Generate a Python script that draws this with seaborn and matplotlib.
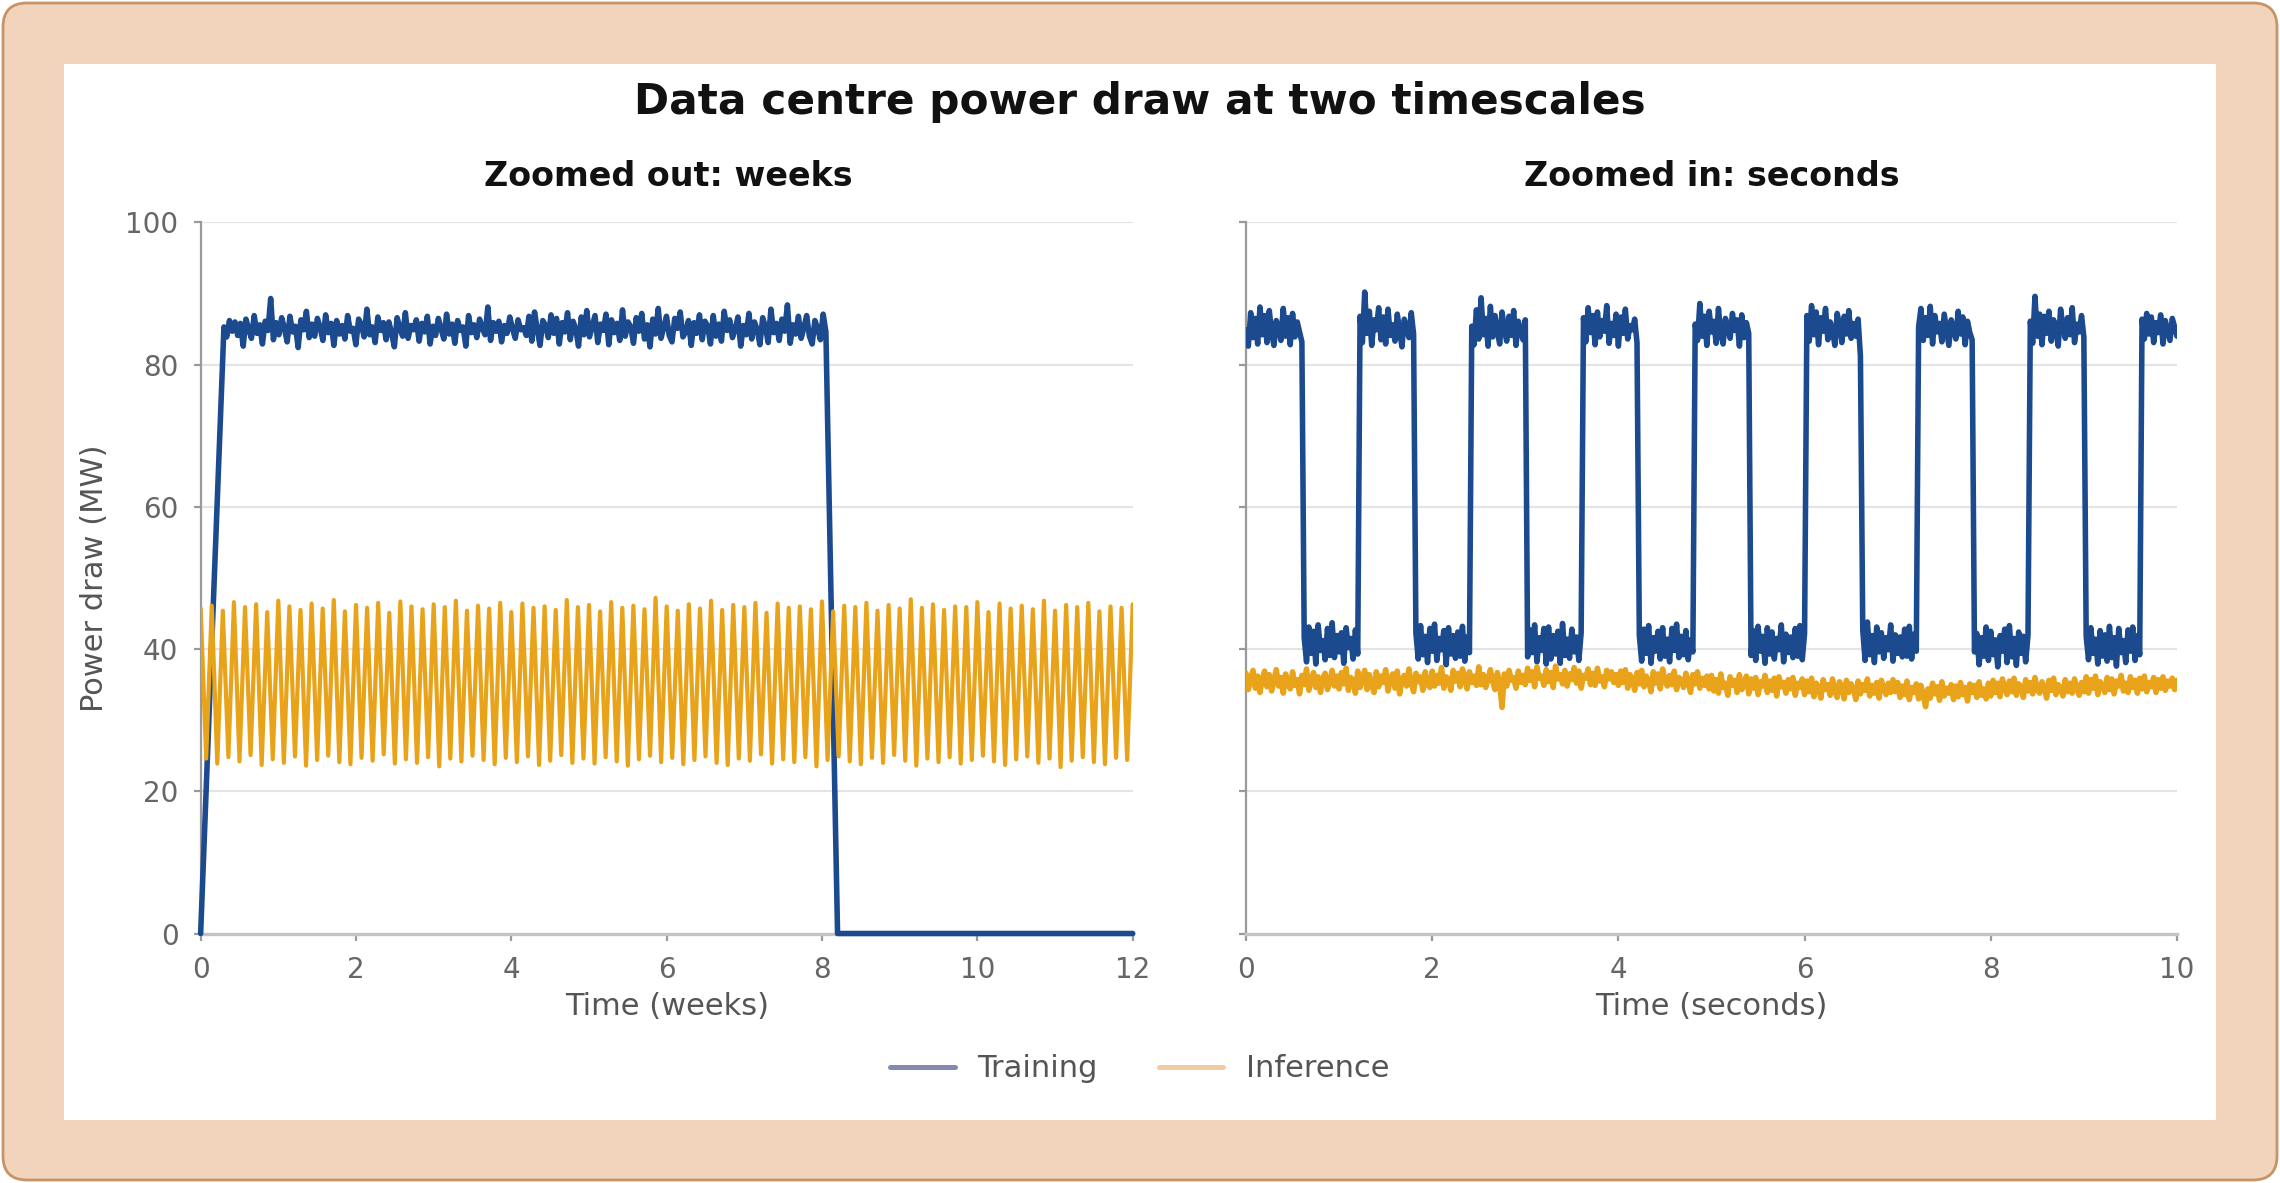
import numpy as np
import matplotlib
matplotlib.use("Agg")
import matplotlib.pyplot as plt
from matplotlib.lines import Line2D
from matplotlib.patches import FancyBboxPatch, Rectangle
import seaborn as sns

sns.set_theme(style="ticks")
plt.rcParams['font.family'] = ['DejaVu Sans']

# ---- left panel: weeks ----
# training: ramp start, plateau start, plateau end, back at zero, end of axis
week_train_knots = [0.0, 0.3, 8.05, 8.2, 12.0]
week_train_plateau = [
    85.3, 83.9, 86.2, 84.7, 86.0, 84.1, 85.8, 82.6, 86.4, 85.0, 83.7, 86.9, 84.4, 85.6,
    82.9, 86.1, 84.8, 89.3, 83.5, 85.9, 84.2, 86.6, 85.1, 83.2, 86.8, 84.6, 85.4, 82.4,
    86.3, 84.9, 87.5, 83.8, 85.7, 84.0, 86.5, 85.2, 83.4, 87.0, 84.5, 85.8, 82.7, 86.2,
    84.3, 85.5, 83.6, 86.9, 84.7, 85.1, 82.8, 86.4, 85.6, 83.9, 87.8, 84.2, 85.3, 83.1,
    86.7, 84.8, 85.9, 83.5, 86.0, 84.4, 82.5, 86.6, 85.2, 84.0, 87.3, 83.7, 85.5, 84.9,
    86.3, 83.3, 85.8, 84.6, 86.8, 82.9, 85.4, 84.1, 86.5, 85.0, 83.6, 87.1, 84.3, 85.7,
    83.0, 86.2, 84.8, 85.3, 82.6, 86.9, 84.5, 85.6, 83.8, 86.4, 85.1, 84.2, 88.1, 83.4,
    85.9, 84.7, 86.1, 83.2, 85.5, 84.4, 86.7, 85.0, 83.7, 86.3, 84.9, 85.2,
    84.1, 86.8, 83.3, 87.4, 84.9, 82.7, 86.2, 85.5, 83.8, 87.0, 84.4, 86.5, 82.9, 85.9,
    84.6, 87.3, 83.5, 86.1, 85.0, 82.6, 86.7, 84.2, 87.6, 83.9, 85.4, 86.9, 83.1, 85.7,
    84.8, 87.1, 82.8, 86.3, 84.5, 85.8, 83.4, 87.7, 84.0, 86.0, 85.3, 83.0, 86.6, 84.7,
    87.2, 83.6, 85.6, 82.5, 86.4, 84.3, 87.9, 83.7, 85.2, 86.8, 84.1, 83.2, 86.5, 85.1,
    87.4, 83.9, 84.6, 86.2, 82.7, 85.9, 84.4, 87.0, 83.5, 86.1, 85.4, 82.9, 86.9, 84.0,
    85.7, 83.3, 87.5, 84.8, 86.3, 83.8, 85.0, 86.7, 82.6, 85.5, 84.2, 87.2, 83.6, 86.0,
    84.9, 82.8, 86.6, 85.3, 83.1, 87.8, 84.5, 85.8, 83.4, 86.4, 84.7, 88.4, 83.0, 85.6,
    84.3, 86.8, 83.7, 85.2, 86.9, 84.0, 82.9, 86.2, 85.1, 83.5, 87.1, 84.6,
]
# inference: one peak and one trough per day over 12 weeks
week_inf_peaks = [
    45.8, 46.1, 45.4, 46.6, 45.9, 46.3, 45.2, 46.8, 46.0, 45.5, 46.4, 45.7, 46.9, 45.3,
    46.2, 45.8, 46.5, 45.1, 46.7, 46.0, 45.6, 46.3, 45.9, 46.8, 45.4, 46.1, 45.7, 46.5,
    45.2, 46.4, 45.8, 46.0, 45.5, 46.9, 45.9, 46.2, 45.3, 46.6, 45.8, 46.1, 45.6, 47.2,
    46.0, 45.4, 46.3, 45.7, 46.8, 45.5, 46.2, 45.9, 46.5, 45.1, 46.4, 45.8, 46.0, 45.6,
    46.7, 45.3, 46.1, 45.9, 46.5, 45.4, 46.2, 45.7, 47.0, 45.8, 46.3, 45.5, 46.0, 45.9,
    46.6, 45.2, 46.4, 45.7, 46.1, 45.6, 46.8, 45.4, 46.2, 45.9, 46.5, 45.3, 46.0, 45.8,
    46.3,
]
week_inf_troughs = [
    24.6, 23.9, 24.8, 24.2, 25.1, 23.7, 24.5, 24.0, 24.9, 23.6, 24.4, 25.0, 24.1, 23.8,
    24.7, 24.3, 25.2, 23.9, 24.5, 24.0, 24.8, 23.5, 24.6, 24.2, 25.0, 24.4, 23.8, 24.7,
    24.1, 24.9, 23.7, 24.3, 25.1, 24.0, 24.6, 23.9, 24.8, 24.2, 23.6, 24.5, 25.0, 24.1,
    24.7, 23.8, 24.4, 24.9, 24.0, 23.7, 24.6, 24.3, 25.2, 23.9, 24.5, 24.1, 24.8, 23.5,
    24.4, 24.9, 24.2, 23.8, 24.7, 24.0, 25.1, 24.3, 23.6, 24.6, 24.1, 24.8, 23.9, 24.4,
    25.0, 24.2, 23.7, 24.5, 24.9, 24.0, 24.6, 23.4, 24.3, 24.8, 24.1, 23.8, 24.7, 24.4,
]

# ---- right panel: seconds, sampled every 0.025 s ----
sec_step = 0.025
sec_training = [
    # on 0.000-0.600
    84.9, 82.6, 87.3, 83.8, 86.5, 82.9, 88.1, 84.2, 86.9, 83.1, 87.6, 84.5, 82.7,
    86.2, 85.1, 83.4, 87.9, 84.0, 86.6, 82.8, 87.2, 83.9, 86.0, 84.6, 83.2,
    # off 0.625-1.200
    41.6, 38.2, 43.1, 39.4, 42.5, 37.9, 43.4, 39.8, 41.2, 38.5, 42.9, 39.1,
    43.7, 38.8, 41.9, 39.6, 42.3, 38.0, 43.0, 40.2, 41.5, 38.6, 42.7, 39.3,
    # on 1.225-1.800
    86.8, 83.1, 90.2, 84.4, 87.5, 82.7, 86.3, 84.9, 88.0, 83.5, 86.7, 82.9,
    87.8, 84.1, 85.6, 83.3, 87.1, 84.7, 82.5, 86.4, 85.2, 83.8, 87.3, 84.3,
    # off 1.825-2.400
    42.2, 38.6, 43.3, 39.2, 41.8, 38.1, 42.9, 39.7, 43.5, 38.4, 41.5, 39.9,
    42.6, 37.8, 43.0, 39.3, 41.9, 38.7, 42.4, 39.0, 43.2, 38.3, 41.7, 39.5,
    # on 2.425-3.000
    85.4, 82.8, 87.7, 83.6, 89.4, 84.2, 86.5, 82.6, 88.2, 83.9, 86.9, 84.6,
    82.9, 87.4, 85.0, 83.3, 86.8, 84.1, 87.6, 82.7, 86.1, 84.8, 83.5, 86.3,
    # off 3.025-3.600
    38.9, 42.7, 39.5, 43.4, 38.2, 41.6, 39.8, 42.9, 37.9, 43.1, 38.6, 41.9,
    39.3, 42.5, 38.0, 43.6, 39.1, 41.4, 38.7, 42.8, 39.6, 41.7, 38.4, 42.3,
    # on 3.625-4.200
    86.6, 83.2, 88.0, 84.5, 86.9, 82.8, 87.4, 83.9, 86.2, 84.7, 88.3, 83.0,
    85.8, 84.1, 87.1, 82.6, 86.7, 84.4, 87.8, 83.6, 85.5, 84.9, 86.4, 83.1,
    # off 4.225-4.800
    41.9, 38.3, 42.8, 39.4, 43.3, 38.0, 41.6, 39.7, 42.5, 38.6, 43.0, 39.0,
    41.4, 38.2, 42.9, 39.8, 43.5, 38.8, 41.8, 39.2, 42.6, 38.5, 41.3, 39.6,
    # on 4.825-5.400
    85.7, 83.4, 88.6, 84.0, 86.8, 82.7, 87.5, 84.6, 86.1, 83.0, 87.9, 84.3,
    82.9, 86.5, 85.2, 83.7, 87.2, 84.8, 86.3, 82.6, 87.0, 83.8, 85.9, 84.4,
    # off 5.425-6.000
    39.1, 42.6, 38.4, 43.2, 39.7, 41.8, 38.0, 43.0, 39.3, 42.4, 38.6, 41.5,
    39.9, 43.4, 38.2, 42.1, 39.5, 41.7, 38.8, 42.9, 39.0, 43.3, 38.5, 42.2,
    # on 6.025-6.600
    86.9, 83.3, 88.3, 84.2, 87.4, 82.8, 86.6, 84.7, 87.9, 83.5, 86.0, 84.9,
    82.7, 87.2, 85.5, 83.1, 86.8, 84.3, 87.6, 83.7, 85.8, 84.0, 86.4, 81.2,
    # off 6.625-7.200
    42.7, 38.4, 43.8, 39.2, 41.9, 38.1, 43.1, 39.6, 42.3, 38.7, 41.6, 39.9,
    43.4, 38.3, 42.0, 39.4, 41.7, 38.9, 42.8, 39.0, 43.2, 38.6, 42.1, 39.7,
    # on 7.225-7.800
    85.3, 87.9, 83.4, 86.6, 84.1, 88.2, 82.9, 86.9, 84.6, 85.8, 83.2, 87.1,
    84.9, 82.7, 86.3, 85.0, 83.6, 87.5, 84.3, 86.7, 82.8, 86.1, 84.5, 83.5,
    # off 7.825-8.400
    39.6, 42.2, 37.8, 41.6, 39.0, 43.1, 38.4, 42.5, 39.2, 41.3, 37.5, 41.9,
    39.7, 42.8, 38.1, 43.3, 38.9, 41.5, 37.7, 42.4, 39.4, 41.8, 38.2, 42.0,
    # on 8.425-9.000
    86.1, 83.0, 89.6, 84.0, 87.1, 82.8, 86.8, 84.4, 87.5, 83.3, 86.3, 84.9,
    82.6, 87.8, 85.4, 83.7, 86.6, 84.2, 88.0, 83.1, 85.7, 84.6, 86.9, 83.9,
    # off 9.025-9.600
    41.8, 38.5, 43.0, 39.4, 41.4, 37.9, 42.6, 39.0, 42.0, 38.3, 43.2, 38.8,
    41.6, 37.6, 42.9, 39.5, 41.2, 38.1, 42.7, 39.7, 43.1, 38.4, 41.9, 39.2,
    # on 9.625-10.000
    86.4, 83.6, 87.2, 84.3, 86.7, 83.1, 85.9, 84.5, 87.0, 82.9, 86.2, 84.8,
    83.4, 86.5, 85.3, 84.0,
]
sec_inference = [
    36.6, 34.3, 35.9, 37.0, 34.5, 36.2, 33.9, 35.8, 36.9, 34.7, 36.4, 34.1, 35.6, 37.1, 34.8, 36.0, 33.8, 36.5, 35.2, 34.4,
    36.8, 34.9, 35.7, 33.7, 36.3, 35.0, 37.2, 34.2, 35.5, 36.7, 34.6, 36.1, 33.9, 35.9, 36.6, 34.3, 35.4, 37.0, 34.8, 36.2,
    34.4, 36.7, 35.1, 37.3, 34.2, 36.0, 35.6, 33.8, 36.9, 34.6, 35.8, 37.0, 34.3, 36.4, 35.0, 33.9, 36.8, 34.7, 36.2, 35.3,
    37.1, 34.1, 35.9, 36.5, 34.5, 36.9, 33.7, 35.7, 36.3, 34.8, 37.2, 35.2, 34.0, 36.6, 35.4, 36.1, 34.2, 36.8, 35.0, 34.6,
    36.9, 34.8, 36.3, 35.2, 37.4, 34.5, 36.1, 35.7, 34.2, 37.0, 35.5, 36.6, 34.7, 37.2, 35.9, 34.4, 36.8, 35.3, 36.2, 34.9,
    37.5, 35.0, 36.4, 34.6, 35.8, 37.1, 35.4, 34.3, 36.7, 35.1, 31.8, 36.5, 34.8, 37.0, 35.6, 36.0, 34.5, 36.9, 35.3, 36.3,
    35.0, 37.3, 35.6, 36.8, 34.7, 37.5, 35.9, 36.2, 34.9, 37.1, 35.4, 36.7, 34.6, 37.6, 35.8, 36.4, 35.1, 37.0, 34.8, 36.5,
    35.7, 37.4, 35.2, 36.9, 34.5, 36.3, 35.9, 37.2, 35.0, 36.6, 34.9, 37.3, 35.5, 36.1, 34.7, 37.0, 35.8, 36.8, 35.3, 36.4,
    34.9, 36.9, 35.3, 37.1, 34.5, 36.4, 35.8, 34.2, 36.7, 35.1, 37.0, 34.7, 36.2, 35.5, 34.0, 36.8, 35.2, 36.5, 34.4, 37.2,
    35.6, 34.8, 36.3, 35.0, 36.9, 34.3, 36.0, 35.7, 34.6, 36.6, 35.4, 33.9, 36.4, 35.1, 36.8, 34.5, 35.9, 34.9, 36.2, 34.4,
    36.3, 34.1, 35.7, 33.8, 36.5, 34.6, 35.2, 33.5, 36.1, 34.9, 35.6, 33.9, 36.4, 34.3, 35.0, 36.2, 33.7, 35.8, 34.5, 36.0,
    33.6, 35.4, 34.8, 36.3, 33.9, 35.5, 34.2, 35.9, 33.4, 36.1, 34.7, 35.3, 33.8, 35.7, 34.4, 36.0, 33.5, 35.2, 34.6, 35.8,
    33.6, 35.5, 34.0, 35.9, 33.3, 35.2, 34.6, 33.1, 35.7, 34.3, 35.0, 33.5, 35.8, 34.1, 33.2, 35.4, 34.7, 33.0, 35.6, 33.9,
    35.1, 34.4, 32.9, 35.5, 33.7, 35.0, 34.2, 35.8, 33.4, 34.9, 33.8, 35.3, 33.1, 35.6, 34.5, 33.6, 35.2, 33.9, 35.7, 34.0,
    35.3, 33.2, 34.8, 33.6, 35.5, 32.9, 34.6, 33.9, 35.1, 33.0, 34.9, 33.5, 31.9, 34.4, 33.1, 35.2, 33.7, 34.7, 32.8, 35.4,
    33.4, 34.5, 33.8, 35.0, 32.9, 34.8, 33.3, 35.3, 33.6, 34.6, 32.7, 35.1, 33.9, 34.9, 33.2, 35.4, 33.5, 34.4, 33.0, 35.2,
    33.4, 35.6, 33.9, 35.2, 33.3, 35.8, 34.4, 33.6, 35.5, 34.0, 35.9, 33.5, 35.1, 34.7, 33.2, 35.7, 34.1, 35.3, 33.7, 36.0,
    34.3, 33.8, 35.4, 34.6, 33.1, 35.6, 34.2, 35.9, 33.6, 35.0, 34.5, 33.4, 35.7, 34.0, 35.2, 33.8, 35.8, 34.4, 33.5, 35.3,
    34.0, 36.1, 33.8, 35.7, 34.5, 36.2, 33.6, 35.4, 34.9, 33.9, 36.0, 34.3, 35.8, 33.7, 35.5, 34.8, 36.3, 34.1, 35.2, 33.9,
    36.1, 34.6, 35.6, 33.8, 35.9, 34.4, 36.2, 34.0, 35.3, 34.7, 36.0, 33.9, 35.7, 34.5, 36.1, 34.2, 35.5, 34.8, 35.9, 34.3,
    35.6,
]

NAVY = "#1c4a8e"
GOLD = "#e9a31a"
PEACH = "#f2d3bb"
EDGE = "#c79468"

# assemble series
wk_train_x = np.concatenate([[week_train_knots[0]],
                             np.linspace(week_train_knots[1], week_train_knots[2], len(week_train_plateau)),
                             week_train_knots[3:]])
wk_train_y = np.concatenate([[0.0], week_train_plateau, [0.0, 0.0]])

pk_x = np.arange(len(week_inf_peaks)) / 7
tr_x = (np.arange(len(week_inf_troughs)) + 0.5) / 7
wk_inf_x = np.concatenate([pk_x, tr_x])
wk_inf_y = np.concatenate([week_inf_peaks, week_inf_troughs])
order = np.argsort(wk_inf_x)
wk_inf_x, wk_inf_y = wk_inf_x[order], wk_inf_y[order]

sec_t_train = np.arange(len(sec_training)) * sec_step
sec_t_inf = np.arange(len(sec_inference)) * sec_step

fig = plt.figure(figsize=(11.4, 5.915), dpi=200)
fig.patch.set_facecolor("white")

# frame
bg = fig.add_axes([0, 0, 1, 1], zorder=-10)
bg.set_xlim(0, 2280)
bg.set_ylim(1183, 0)
bg.axis("off")
bg.add_patch(FancyBboxPatch((3, 3), 2274, 1177, boxstyle="round,pad=0,rounding_size=24",
                            fc=PEACH, ec=EDGE, lw=1.0))
bg.add_patch(Rectangle((64, 64), 2152, 1056, fc="white", ec="none"))

ax1 = fig.add_axes([0.0880, 0.2109, 0.4088, 0.6011])
ax2 = fig.add_axes([0.5465, 0.2109, 0.4083, 0.6011], sharey=ax1)

sns.lineplot(x=wk_train_x, y=wk_train_y, ax=ax1, color=NAVY, lw=2.0,
             estimator=None, sort=False, zorder=3, clip_on=False)
sns.lineplot(x=wk_inf_x, y=wk_inf_y, ax=ax1, color=GOLD, lw=1.5,
             estimator=None, sort=False, zorder=3)

sns.lineplot(x=sec_t_train, y=sec_training, ax=ax2, color=NAVY, lw=2.0,
             estimator=None, sort=False, zorder=3)
sns.lineplot(x=sec_t_inf, y=sec_inference, ax=ax2, color=GOLD, lw=2.0,
             estimator=None, sort=False, zorder=3)

for ax in (ax1, ax2):
    ax.set_ylim(0, 100)
    ax.set_yticks(range(0, 101, 20))
    ax.yaxis.grid(True, color="#e4e4e4", lw=0.8)
    ax.xaxis.grid(False)
    ax.set_axisbelow(True)
    sns.despine(ax=ax)
    ax.spines["left"].set_color("#9a9a9a")
    ax.spines["left"].set_linewidth(0.8)
    ax.spines["bottom"].set_color("#c4c4c4")
    ax.spines["bottom"].set_linewidth(1.2)
    ax.tick_params(colors="#9a9a9a", labelcolor="#666666", labelsize=10,
                   length=2.5, width=0.8, pad=5.5)

ax1.set_xlim(0, 12)
ax1.set_xticks(range(0, 13, 2))
ax2.set_xlim(0, 10)
ax2.set_xticks(range(0, 11, 2))
ax2.tick_params(labelleft=False)

ax1.set_xlabel("Time (weeks)", fontsize=11, color="#555555", labelpad=3)
ax1.set_ylabel("Power draw (MW)", fontsize=11, color="#555555", labelpad=6)
ax2.set_xlabel("Time (seconds)", fontsize=11, color="#555555", labelpad=3)
ax2.set_ylabel("")

fig.text(0.5, 0.914, "Data centre power draw at two timescales", ha="center", va="center",
         fontsize=15.2, fontweight="bold", color="#111111")
fig.text(0.293, 0.8512, "Zoomed out: weeks", ha="center", va="center",
         fontsize=12, fontweight="bold", color="#111111")
fig.text(0.7507, 0.8512, "Zoomed in: seconds", ha="center", va="center",
         fontsize=12, fontweight="bold", color="#111111")

handles = [Line2D([], [], color="#1f2a6e", lw=1.8, alpha=0.55),
           Line2D([], [], color="#e59a45", lw=1.8, alpha=0.5)]
fig.legend(handles, ["Training", "Inference"], loc="center", bbox_to_anchor=(0.5, 0.0964),
           ncol=2, frameon=False, fontsize=11, labelcolor="#555555",
           handlelength=2.1, handletextpad=0.75, columnspacing=2.0)

fig.savefig("out.png", dpi=200)
